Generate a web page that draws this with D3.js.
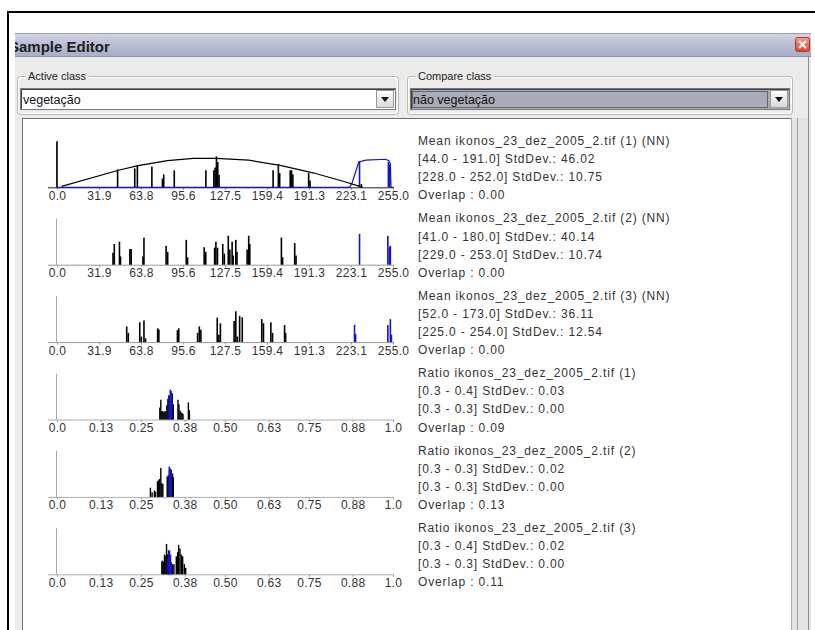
<!DOCTYPE html>
<html>
<head>
<meta charset="utf-8">
<script src="https://cdn.jsdelivr.net/npm/d3@7"></script>
<style>
  body { margin: 0; background: #fff; }
  text { font-family: "Liberation Sans", Arial, sans-serif; }
</style>
</head>
<body>
<div id="chartContainer"></div>
<script>
// tick labels of the two kinds of axes
var meanTickLabels = ["0.0", "31.9", "63.8", "95.6", "127.5", "159.4", "191.3", "223.1", "255.0"];
var ratioTickLabels = ["0.0", "0.13", "0.25", "0.38", "0.50", "0.63", "0.75", "0.88", "1.0"];

// histograms: [value, height in % of plot height]
var p1Black = [[0,100],[46,39],[59,41],[61,47],[72,45],[80,19],[81,28],[89,37],[113,37],[119,37],[120,43],
  [121,67],[122,55],[123,27],[164,37],[168,51],[169,31],[177,37],[178,37],[179,28],[191,31],[192,15],[231,7]];
var p1Blue = [[229.6,57],[251.5,55],[252.5,50]];
var p1Curve = [[3.5,2],[46.7,37],[61.5,47],[83.8,58],[103.5,63],[120.8,63],[145.5,59],[170.3,47],[195,31],[219.7,11],[229.6,2],[232,0]];
var p1BlueCurve = [[0,0],[222,0],[224,10],[229,55],[234.5,59],[249.3,61],[251.8,58],[253,51],[253.5,0],[255,0]];

var p2Black = [[42.5,26],[43.5,45],[47.4,50],[48.2,18],[55.3,34],[56.3,34],[65.2,18],[66,59],[82.8,41],[84,28],
  [98.1,54],[99.1,16],[111.7,38],[112.9,28],[119.6,37],[120.6,50],[121.8,37],[125.8,45],[127,24],[130,63],
  [131.2,33],[132.9,50],[133.7,20],[135.7,54],[136.6,28],[144.3,33],[145.5,63],[146.3,45],[170.3,59],[171.2,16],
  [180.4,47],[181.4,20]];
var p2Blue = [[229.6,67],[251.1,63],[252.3,38],[253,41]];

var p3Black = [[52.9,34],[54.1,20],[62.8,43],[64,12],[66,47],[67.2,8],[76.4,30],[77.3,27],[91.4,26],[92.4,30],
  [106.7,20],[108,34],[109.2,27],[121.6,53],[122.8,16],[124,41],[134.4,46],[135.7,67],[136.9,12],[138.6,57],
  [140.6,54],[155.4,50],[156.7,41],[162.3,43],[163.6,20],[172.7,37],[173.5,20]];
var p3Blue = [[225.8,38],[226.6,18],[251.1,37],[253,50],[253.8,16]];

var p4Black = [[0.306,26],[0.309,43],[0.312,18],[0.315,18],[0.318,16],[0.321,18],[0.324,18],[0.327,31],[0.330,45],
  [0.333,53],[0.343,57],[0.346,33],[0.360,43],[0.363,33],[0.366,20],[0.369,16],[0.372,14],[0.375,12],[0.391,37],[0.394,20]];
var p4Blue = [[0.334,50],[0.337,65],[0.340,62],[0.342,45]];

var p5Black = [[0.278,20],[0.283,10],[0.290,14],[0.293,11],[0.299,34],[0.302,36],[0.305,39],[0.309,63],[0.312,30],
  [0.315,28],[0.328,44],[0.331,47],[0.335,60],[0.340,59],[0.344,51],[0.346,43]];
var p5Blue = [[0.334,66],[0.337,62],[0.340,55]];

var p6Black = [[0.312,28],[0.315,30],[0.318,26],[0.320,43],[0.324,40],[0.326,66],[0.329,43],[0.332,52],[0.340,26],
  [0.344,22],[0.348,22],[0.355,39],[0.359,48],[0.362,64],[0.366,56],[0.370,43],[0.374,39],[0.379,22],[0.383,14]];
var p6Blue = [[0.330,34],[0.333,48],[0.335,52],[0.338,43],[0.341,22]];

// the texts to the right of each histogram
var info1 = ["Mean ikonos_23_dez_2005_2.tif (1) (NN)", "[44.0 - 191.0] StdDev.: 46.02", "[228.0 - 252.0] StdDev.: 10.75", "Overlap : 0.00"];
var info2 = ["Mean ikonos_23_dez_2005_2.tif (2) (NN)", "[41.0 - 180.0] StdDev.: 40.14", "[229.0 - 253.0] StdDev.: 10.74", "Overlap : 0.00"];
var info3 = ["Mean ikonos_23_dez_2005_2.tif (3) (NN)", "[52.0 - 173.0] StdDev.: 36.11", "[225.0 - 254.0] StdDev.: 12.54", "Overlap : 0.00"];
var info4 = ["Ratio ikonos_23_dez_2005_2.tif (1)", "[0.3 - 0.4] StdDev.: 0.03", "[0.3 - 0.3] StdDev.: 0.00", "Overlap : 0.09"];
var info5 = ["Ratio ikonos_23_dez_2005_2.tif (2)", "[0.3 - 0.3] StdDev.: 0.02", "[0.3 - 0.3] StdDev.: 0.00", "Overlap : 0.13"];
var info6 = ["Ratio ikonos_23_dez_2005_2.tif (3)", "[0.3 - 0.4] StdDev.: 0.02", "[0.3 - 0.3] StdDev.: 0.00", "Overlap : 0.11"];

var svg = d3.select("#chartContainer").append("svg")
    .attr("width", 815).attr("height", 630);

var defs = svg.append("defs");
var tg = defs.append("linearGradient").attr("id", "titleGrad").attr("x1", 0).attr("y1", 0).attr("x2", 0).attr("y2", 1);
tg.append("stop").attr("offset", "0%").attr("stop-color", "#d4d6e4");
tg.append("stop").attr("offset", "45%").attr("stop-color", "#bbbfd5");
tg.append("stop").attr("offset", "100%").attr("stop-color", "#a7acc8");
var bg = defs.append("linearGradient").attr("id", "btnGrad").attr("x1", 0).attr("y1", 0).attr("x2", 0).attr("y2", 1);
bg.append("stop").attr("offset", "0%").attr("stop-color", "#fbfbfb");
bg.append("stop").attr("offset", "100%").attr("stop-color", "#d8d8d8");
var cg = defs.append("linearGradient").attr("id", "closeGrad").attr("x1", 0).attr("y1", 0).attr("x2", 0).attr("y2", 1);
cg.append("stop").attr("offset", "0%").attr("stop-color", "#f0a090");
cg.append("stop").attr("offset", "100%").attr("stop-color", "#d9452f");
defs.append("clipPath").attr("id", "dlgClip")
    .append("rect").attr("x", 15).attr("y", 33).attr("width", 796).attr("height", 600);

// outer black frame
svg.append("line").attr("x1", 7).attr("x2", 815).attr("y1", 12).attr("y2", 12).style("stroke", "black").style("stroke-width", 2);
svg.append("line").attr("x1", 8).attr("x2", 8).attr("y1", 11).attr("y2", 630).style("stroke", "black").style("stroke-width", 2);

var dlg = svg.append("g").attr("clip-path", "url(#dlgClip)");

// dialog body and title bar
dlg.append("rect").attr("x", 15).attr("y", 33).attr("width", 796).attr("height", 600).style("fill", "#ecebea");
dlg.append("rect").attr("x", 15).attr("y", 33).attr("width", 796).attr("height", 24).style("fill", "url(#titleGrad)");
dlg.append("line").attr("x1", 15).attr("x2", 811).attr("y1", 33.5).attr("y2", 33.5).style("stroke", "#9a9eb8");
dlg.append("line").attr("x1", 15).attr("x2", 811).attr("y1", 56.5).attr("y2", 56.5).style("stroke", "#8d92b0");
dlg.append("text").attr("x", 9).attr("y", 52)
    .style("font-weight", "bold").style("font-size", "15px").style("fill", "#1c1c1c")
    .text("Sample Editor");

// close button
dlg.append("rect").attr("x", 795.5).attr("y", 37.5).attr("width", 14).attr("height", 14).attr("rx", 2)
    .style("fill", "url(#closeGrad)").style("stroke", "#b03a2a");
dlg.append("path").attr("d", "M799,41 L806,48 M806,41 L799,48")
    .style("stroke", "white").style("stroke-width", 2);

// right border of dialog
dlg.append("rect").attr("x", 792).attr("y", 118).attr("width", 19).attr("height", 520).style("fill", "#e4e4e4");
dlg.append("line").attr("x1", 797.5).attr("x2", 797.5).attr("y1", 118).attr("y2", 630).style("stroke", "#a0a0a0");
dlg.append("line").attr("x1", 808.5).attr("x2", 808.5).attr("y1", 57).attr("y2", 630).style("stroke", "#8c8c8c");

// group boxes with their combo boxes
function groupBox(x, w, label, value, selected) {
  var g = dlg.append("g");
  g.append("rect").attr("x", x + 0.5).attr("y", 76.5).attr("width", w).attr("height", 38).attr("rx", 3)
      .style("fill", "none").style("stroke", "#b8b8b8");
  g.append("rect").attr("x", x + 1.5).attr("y", 77.5).attr("width", w - 2).attr("height", 36).attr("rx", 3)
      .style("fill", "none").style("stroke", "#ffffff");
  var t = g.append("text").attr("x", x + 11).attr("y", 80).style("font-size", "11px").style("fill", "#222").text(label);
  var bb = t.node().getBBox();
  g.insert("rect", "text").attr("x", bb.x - 2).attr("y", bb.y).attr("width", bb.width + 4).attr("height", bb.height)
      .style("fill", "#ecebea");
  var cx = x + 3, cw = w - 6;
  g.append("rect").attr("x", cx + 0.5).attr("y", 88.5).attr("width", cw).attr("height", 21)
      .style("fill", selected ? "#a9acb8" : "white").style("stroke", "#7a7a7a");
  g.append("line").attr("x1", cx + 1.5).attr("x2", cx + cw).attr("y1", 89.5).attr("y2", 89.5).style("stroke", "#404040");
  g.append("line").attr("x1", cx + 1.5).attr("x2", cx + 1.5).attr("y1", 89.5).attr("y2", 109).style("stroke", "#404040");
  if (selected) {
    g.append("rect").attr("x", cx + 2.5).attr("y", 91.5).attr("width", cw - 24).attr("height", 16)
        .style("fill", "none").style("stroke", "#222").style("stroke-dasharray", "1,1");
  }
  g.append("text").attr("x", cx + 3).attr("y", 104).style("font-size", "12.5px").style("fill", "#111").text(value);
  var bx = cx + cw - 19;
  g.append("rect").attr("x", bx + 0.5).attr("y", 90.5).attr("width", 17).attr("height", 17)
      .style("fill", "url(#btnGrad)").style("stroke", "#9a9a9a");
  g.append("path").attr("d", "M" + (bx + 5) + ",97 h8 l-4,5 z").style("fill", "#111");
}
groupBox(17, 381, "Active class", "vegetação", false);
groupBox(407, 385, "Compare class", "não vegetação", true);

// white chart panel
dlg.append("rect").attr("x", 22).attr("y", 118).attr("width", 770).attr("height", 520).style("fill", "white");
dlg.append("line").attr("x1", 22).attr("x2", 792).attr("y1", 118.5).attr("y2", 118.5).style("stroke", "#6f6f6f");
dlg.append("line").attr("x1", 22.5).attr("x2", 22.5).attr("y1", 118).attr("y2", 630).style("stroke", "#6f6f6f");
dlg.append("line").attr("x1", 791.5).attr("x2", 791.5).attr("y1", 118).attr("y2", 630).style("stroke", "#b0b0b0");

var xMean = d3.scaleLinear().domain([0, 255]).range([57, 393]);
var xRatio = d3.scaleLinear().domain([0, 1]).range([57, 393]);
var plotH = 46;
var rowStep = 77.4, lineStep = 18.1;

// row = centre of the "Overlap" line, the tick labels sit on the same line
function drawPanel(k, xs, tickLabels, black, blue, info, binPx, axisColor) {
  var row = 195.3 + k * rowStep;
  var base = row - 8;
  var g = dlg.append("g");
  var y = d3.scaleLinear().domain([0, 100]).range([base, base - plotH]);

  // y axis
  g.append("line").attr("x1", xs(0) - 0.5).attr("x2", xs(0) - 0.5)
      .attr("y1", base).attr("y2", base - plotH).style("stroke", "#a8a8a8");

  // x axis
  var ax = d3.axisBottom(xs)
      .tickValues(tickLabels.map(function (d) { return parseFloat(d); }))
      .tickFormat(function (d, i) { return tickLabels[i]; })
      .tickSizeInner(2).tickSizeOuter(0);
  var a = g.append("g").attr("transform", "translate(0," + (base + 0.5) + ")").call(ax);
  a.select(".domain").remove();
  a.selectAll("line").style("stroke", "#999");
  a.selectAll("text").attr("y", row + 4 - base).attr("dy", 0)
      .style("font-size", "12px").style("fill", "#333").style("letter-spacing", "0.3px")
      .style("font-family", "'Liberation Sans', Arial, sans-serif");
  g.append("line").attr("x1", xs.range()[0] - 9).attr("x2", xs.range()[1] + 1)
      .attr("y1", base + 0.5).attr("y2", base + 0.5).style("stroke", axisColor);

  g.selectAll("rect.black").data(black).enter().append("rect").attr("class", "black")
      .attr("x", function (d) { return xs(d[0]) - binPx / 2; })
      .attr("width", binPx)
      .attr("y", function (d) { return y(d[1]); })
      .attr("height", function (d) { return base - y(d[1]); })
      .style("fill", "black");
  g.selectAll("rect.blue").data(blue).enter().append("rect").attr("class", "blue")
      .attr("x", function (d) { return xs(d[0]) - binPx / 2; })
      .attr("width", binPx)
      .attr("y", function (d) { return y(d[1]); })
      .attr("height", function (d) { return base - y(d[1]); })
      .style("fill", "#1414c8");

  g.selectAll("text.info").data(info).enter().append("text").attr("class", "info")
      .attr("x", 418)
      .attr("y", function (d, i) { return row + 4 - (3 - i) * lineStep; })
      .style("font-size", "12px").style("fill", "#333").style("letter-spacing", "0.85px")
      .text(function (d) { return d; });
  return y;
}

var y1 = drawPanel(0, xMean, meanTickLabels, p1Black, p1Blue, info1, 1.6, "#222");
var line1 = d3.line().x(function (d) { return xMean(d[0]); }).y(function (d) { return y1(d[1]); });
dlg.append("path").datum(p1BlueCurve).attr("d", line1)
    .style("fill", "none").style("stroke", "#1414c8").style("stroke-width", 1.2);
dlg.append("path").datum(p1Curve).attr("d", line1)
    .style("fill", "none").style("stroke", "black").style("stroke-width", 1.2);

drawPanel(1, xMean, meanTickLabels, p2Black, p2Blue, info2, 1.6, "#999");
drawPanel(2, xMean, meanTickLabels, p3Black, p3Blue, info3, 1.6, "#999");
drawPanel(3, xRatio, ratioTickLabels, p4Black, p4Blue, info4, 1.4, "#aaa");
drawPanel(4, xRatio, ratioTickLabels, p5Black, p5Blue, info5, 1.4, "#aaa");
drawPanel(5, xRatio, ratioTickLabels, p6Black, p6Blue, info6, 1.4, "#aaa");
</script>
</body>
</html>
